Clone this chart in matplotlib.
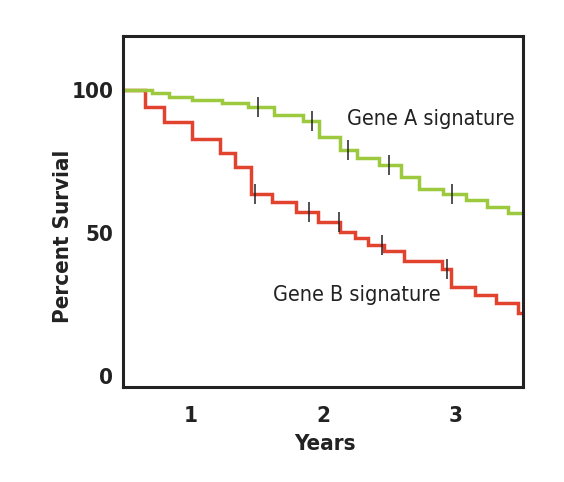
import numpy as np
import matplotlib
matplotlib.use('Agg')
import matplotlib.pyplot as plt

# ── Fonts ─────────────────────────────────────────────────────────────────────
plt.rcParams['font.family'] = ['DejaVu Sans']
plt.rcParams['font.stretch'] = 'condensed'

# ── Data ──────────────────────────────────────────────────────────────────────
GREEN = '#9cc93e'
RED   = '#e2432f'
INK   = '#222222'

# Gene A signature: step times (years) and survival after each step (%)
gene_a_times = [0.49, 0.706, 0.834, 1.008, 1.234, 1.430, 1.626, 1.845, 1.966, 2.125,
                2.253, 2.419, 2.592, 2.728, 2.909, 3.083, 3.242, 3.400]
gene_a_surv  = [100.0, 99.1, 97.7, 96.5, 95.4, 94.0, 91.3, 89.3, 83.7, 79.0,
                76.1, 74.0, 69.5, 65.6, 63.6, 61.5, 59.2, 57.1]
gene_a_censor = [1.506, 1.913, 2.185, 2.502, 2.977]

# Gene B signature
gene_b_times = [0.49, 0.653, 0.796, 1.008, 1.219, 1.332, 1.453, 1.611, 1.792, 1.958,
                2.125, 2.238, 2.343, 2.464, 2.608, 2.902, 2.970, 3.151, 3.309, 3.475]
gene_b_surv  = [100.0, 94.2, 88.7, 82.8, 77.9, 73.2, 63.6, 60.9, 57.5, 54.0,
                50.5, 48.2, 45.8, 43.8, 40.2, 37.3, 31.2, 28.3, 25.4, 22.1]
gene_b_censor = [1.483, 1.891, 2.118, 2.449, 2.940]

X_END = 3.51
x_ticks = [1, 2, 3]
y_ticks = [0, 50, 100]


def level_at(times, surv, t):
    i = np.searchsorted(times, t, side='right') - 1
    return surv[i]


fig = plt.figure(figsize=(5.64, 4.82), dpi=100)
ax = fig.add_axes([0.218, 0.197, 0.709, 0.728])

# red first so the green curve sits on top where they share the 100% start
for times, surv, censor, color in [
    (gene_b_times, gene_b_surv, gene_b_censor, RED),
    (gene_a_times, gene_a_surv, gene_a_censor, GREEN),
]:
    ax.step(times + [X_END], surv + [surv[-1]], where='post',
            color=color, lw=2.5, solid_joinstyle='miter')
    cy = [level_at(times, surv, t) for t in censor]
    ax.plot(censor, cy, ls='none', marker='|', ms=14, mew=1.1, color=INK, zorder=4)

ax.text(2.177, 87.8, 'Gene A signature', fontsize=15.5, color=INK, va='baseline')
ax.text(1.619, 26.3, 'Gene B signature', fontsize=15.5, color=INK, va='baseline')

ax.set_xlim(0.487, X_END)
ax.set_ylim(-3.85, 118.9)
ax.set_xticks(x_ticks)
ax.set_yticks(y_ticks)
ax.tick_params(length=0, labelsize=16, colors=INK)
ax.tick_params(axis='x', pad=14)
ax.tick_params(axis='y', pad=7)
for lab in ax.get_xticklabels() + ax.get_yticklabels():
    lab.set_fontweight('bold')

for sp in ax.spines.values():
    sp.set_linewidth(2.2)
    sp.set_color(INK)

ax.set_xlabel('Years', fontsize=16, fontweight='bold', color=INK)
ax.set_ylabel('Percent Survial', fontsize=16, fontweight='bold', color=INK)
ax.xaxis.set_label_coords(0.505, -0.135)
ax.yaxis.set_label_coords(-0.125, 0.43)

plt.savefig('out.png', dpi=100)
plt.close()
